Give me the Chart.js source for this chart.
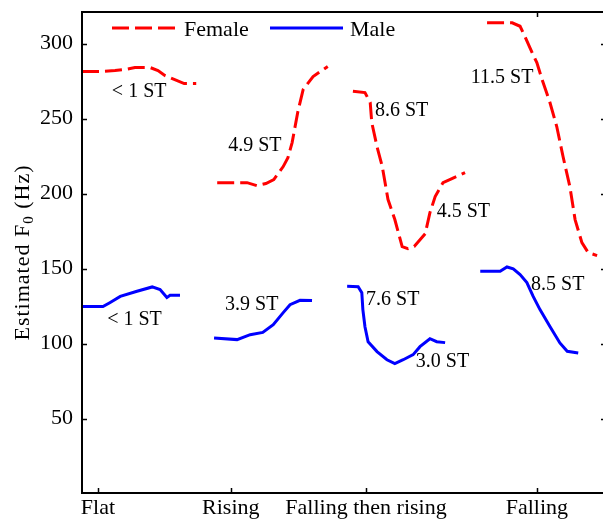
<!doctype html>
<html>
<head>
<meta charset="utf-8">
<title>F0 contours by pattern</title>
<script src="https://cdn.jsdelivr.net/npm/chart.js@4.4.1/dist/chart.umd.min.js"></script>
<style>
  html, body { margin: 0; padding: 0; background: #fff; overflow: hidden; }
  #wrap { width: 612px; height: 521px; }
</style>
</head>
<body>
<div id="wrap"><canvas id="canvas" width="612" height="521"></canvas></div>
<script>
// pitch pattern tick positions on the normalised time axis (0..100)
var patternLabels = ["Flat", "Rising", "Falling then rising", "Falling"];
var patternTimes = [3.05, 28.4, 54.2, 86.8];
var f0Ticks = [50, 100, 150, 200, 250, 300];

// [time, F0 in Hz] for each contour
var femaleFlat = [[0, 281.3], [3.4, 281.3], [6.3, 282], [8.2, 282.7], [10.1, 284], [13.0, 284],
  [14.5, 282], [15.8, 278.7], [17.7, 276], [19.5, 273.3], [21.8, 273.3]];
var femaleRising = [[25.8, 207.3], [31.5, 207.3], [33.4, 205.3], [35.1, 206.7], [36.6, 209.3],
  [38.4, 218], [39.3, 224], [40.1, 234], [41.2, 254.7], [42.2, 269.3], [44.1, 278], [46.9, 284.7]];
var femaleFallRise = [[51.7, 268.2], [54.0, 267.3], [55.0, 260.7], [55.3, 247.3], [56.3, 231.3],
  [57.3, 218], [58.4, 196], [59.7, 182.7], [61.1, 164.7], [62.2, 163.3], [63.4, 164.7],
  [65.5, 173.3], [66.4, 187.3], [67.4, 198], [68.9, 207.3], [70.6, 210], [73.1, 214]];
var femaleFalling = [[77.3, 313.8], [82.1, 313.8], [83.6, 311.5], [84.5, 304.9], [85.9, 294],
  [86.8, 287.3], [87.8, 276], [89.3, 260.7], [90.6, 244.7], [91.8, 224.7], [93.1, 204.7],
  [94.1, 182.7], [95.4, 167.3], [96.6, 160.7], [98.3, 158.7]];

var maleFlat = [[0, 124.7], [4.0, 124.7], [5.3, 127.3], [7.3, 131.5], [10.5, 134.9], [13.4, 137.8],
  [14.9, 136], [16.2, 130.7], [16.8, 132.2], [18.7, 132.2]];
var maleRising = [[25.2, 103.8], [29.6, 102.7], [32.1, 106], [34.5, 107.5], [36.5, 112.7],
  [38.4, 120.7], [39.7, 126], [41.6, 128.9], [43.9, 128.7]];
var maleFallRise = [[50.6, 138.2], [52.7, 138], [53.4, 134], [53.6, 122.7], [54.0, 111.3],
  [54.6, 101.3], [56.3, 94.7], [58.2, 89.3], [59.7, 86.7], [61.3, 89.3], [63.2, 92.7],
  [64.5, 98], [66.4, 103.3], [67.7, 101.3], [69.3, 100.7]];
var maleFalling = [[76.0, 148.2], [79.8, 148.2], [81.1, 151.1], [82.3, 149.8], [83.6, 146],
  [84.9, 140.7], [86.1, 131.5], [87.4, 122.7], [89.3, 111.5], [91.2, 100.5], [92.6, 94.9],
  [94.7, 93.8]];

// range annotations: text, time, F0
var noteText = ["< 1 ST", "< 1 ST", "4.9 ST", "3.9 ST", "8.6 ST", "4.5 ST", "7.6 ST", "3.0 ST", "11.5 ST", "8.5 ST"];
var noteTime = [5.7, 4.8, 27.9, 27.3, 55.9, 67.7, 54.2, 63.7, 74.2, 85.7];
var noteF0 = [268, 116, 232, 126, 255.3, 188, 129.3, 88, 277.3, 139.3];

var FONT = "Liberation Serif, Times New Roman, serif";

function joinContours(list) {
  var pts = [];
  list.forEach(function (c, i) {
    if (i > 0) pts.push({ x: c[0][0], y: null });
    c.forEach(function (p) { pts.push({ x: p[0], y: p[1] }); });
  });
  return pts;
}

var frame = {
  id: "frame",
  afterDraw: function (chart) {
    var ctx = chart.ctx, a = chart.chartArea;
    var xs = chart.scales.x, ys = chart.scales.y;
    var tl = 5;
    ctx.save();
    ctx.strokeStyle = "#000";
    ctx.lineWidth = 1.5;
    ctx.beginPath();
    f0Ticks.forEach(function (v) {
      var y = Math.round(ys.getPixelForValue(v)) + 0.5;
      ctx.moveTo(a.left, y); ctx.lineTo(a.left + tl, y);
      ctx.moveTo(a.right, y); ctx.lineTo(a.right - tl, y);
    });
    patternTimes.forEach(function (v) {
      var x = Math.round(xs.getPixelForValue(v)) + 0.5;
      ctx.moveTo(x, a.bottom); ctx.lineTo(x, a.bottom - tl);
      ctx.moveTo(x, a.top); ctx.lineTo(x, a.top + tl);
    });
    ctx.stroke();

    // legend box sits over the top ticks
    ctx.fillStyle = "#fff";
    ctx.fillRect(a.left + 6, a.top + 1, 330, 32);
    var ly = a.top + 16;
    ctx.lineWidth = 3;
    ctx.strokeStyle = "#ff0000";
    ctx.setLineDash([17, 6]);
    ctx.beginPath(); ctx.moveTo(a.left + 30, ly); ctx.lineTo(a.left + 95, ly); ctx.stroke();
    ctx.setLineDash([]);
    ctx.strokeStyle = "#0000ff";
    ctx.beginPath(); ctx.moveTo(a.left + 188, ly); ctx.lineTo(a.left + 261, ly); ctx.stroke();
    ctx.fillStyle = "#000";
    ctx.font = "22px " + FONT;
    ctx.textAlign = "left";
    ctx.textBaseline = "middle";
    ctx.fillText("Female", a.left + 102, ly + 2);
    ctx.fillText("Male", a.left + 268, ly + 2);

    // annotations
    ctx.font = "20px " + FONT;
    noteText.forEach(function (t, i) {
      ctx.fillText(t, xs.getPixelForValue(noteTime[i]), ys.getPixelForValue(noteF0[i]));
    });

    // y axis title with subscript
    ctx.translate(23, (a.top + a.bottom) / 2);
    ctx.rotate(-Math.PI / 2);
    ctx.letterSpacing = "1px";
    var main = "Estimated F", sub = "0", tail = " (Hz)";
    ctx.font = "22px " + FONT;
    var w1 = ctx.measureText(main).width, w3 = ctx.measureText(tail).width;
    ctx.font = "15px " + FONT;
    var w2 = ctx.measureText(sub).width;
    var x0 = -(w1 + w2 + w3) / 2;
    ctx.font = "22px " + FONT;
    ctx.fillText(main, x0, 0);
    ctx.font = "15px " + FONT;
    ctx.fillText(sub, x0 + w1, 6);
    ctx.font = "22px " + FONT;
    ctx.fillText(tail, x0 + w1 + w2, 0);
    ctx.restore();

    // plot box
    ctx.save();
    ctx.strokeStyle = "#000";
    ctx.lineWidth = 2;
    ctx.strokeRect(a.left, a.top, a.right - a.left, a.bottom - a.top);
    ctx.restore();
  }
};

window.onload = function () {
  var ctx = document.getElementById("canvas").getContext("2d");
  window.myChart = new Chart(ctx, {
    type: "line",
    data: {
      datasets: [
        {
          label: "Female",
          data: joinContours([femaleFlat, femaleRising, femaleFallRise, femaleFalling]),
          borderColor: "#ff0000",
          borderWidth: 3,
          borderDash: [17, 6],
          pointRadius: 0,
          tension: 0,
          spanGaps: false,
          fill: false
        },
        {
          label: "Male",
          data: joinContours([maleFlat, maleRising, maleFallRise, maleFalling]),
          borderColor: "#0000ff",
          borderWidth: 3,
          pointRadius: 0,
          tension: 0,
          spanGaps: false,
          fill: false
        }
      ]
    },
    options: {
      responsive: false,
      animation: false,
      layout: { padding: { top: 12, right: 6, left: 0, bottom: 0 } },
      plugins: { legend: { display: false }, tooltip: { enabled: false } },
      scales: {
        x: {
          type: "linear",
          min: 0,
          max: 100,
          grid: { display: false, drawTicks: false, tickLength: 0 },
          border: { display: false },
          afterBuildTicks: function (axis) {
            axis.ticks = patternTimes.map(function (v) { return { value: v }; });
          },
          afterFit: function (axis) {
            axis.height = 28;
            axis.paddingLeft = 0;
            axis.paddingRight = 0;
          },
          ticks: {
            autoSkip: false,
            maxRotation: 0,
            padding: 2,
            color: "#000",
            font: { family: FONT, size: 22 },
            callback: function (v, i) { return patternLabels[i]; }
          }
        },
        y: {
          min: 0.5,
          max: 321,
          grid: { display: false, drawTicks: false, tickLength: 0 },
          border: { display: false },
          afterBuildTicks: function (axis) {
            axis.ticks = f0Ticks.map(function (v) { return { value: v }; });
          },
          afterFit: function (axis) {
            axis.width = 82;
            axis.paddingTop = 0;
            axis.paddingBottom = 0;
          },
          ticks: {
            padding: 9,
            color: "#000",
            font: { family: FONT, size: 22 }
          }
        }
      }
    },
    plugins: [frame]
  });
};
</script>
</body>
</html>
